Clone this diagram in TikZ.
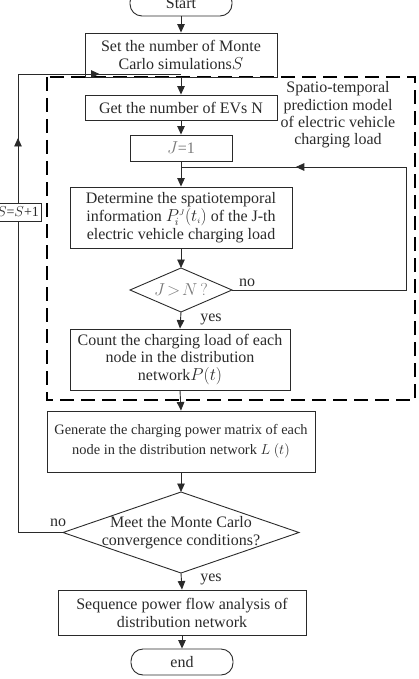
\documentclass[tikz,border=0pt]{standalone}
\usepackage{fontspec}
\setmainfont{Liberation Serif}
\usetikzlibrary{arrows.meta,calc}
\definecolor{ink}{HTML}{2A2A2A}
\definecolor{soft}{HTML}{7A7A7A}
\begin{document}
\begin{tikzpicture}[x=1pt,y=-1pt,
  line/.style={draw=ink, line width=0.9pt},
  arr/.style={line, -{Triangle[length=8.5pt,width=7.5pt]}},
  box/.style={draw=ink, line width=0.9pt, rectangle, align=center, inner sep=0pt,
    font=\fontsize{16}{17.5}\selectfont, text=ink},
  term/.style={box, rounded corners=12pt, minimum width=102pt, minimum height=26pt},
  txt/.style={align=center, inner sep=0pt, font=\fontsize{16}{17.5}\selectfont, text=ink},
  dashbox/.style={draw=black, line width=2pt, dash pattern=on 14pt off 7pt},
  diam/.style={draw=ink, line width=0.9pt},
]
\useasboundingbox (0,0) rectangle (419,679);

% dashed region
\draw[dashbox] (47,77) rectangle (415,400);

% nodes
\node[term] (start) at (181,3) {Start};
\node[box, minimum width=192pt, minimum height=44pt] (b1) at (181,55)
  {Set the number of Monte\\Carlo simulations$S$};
\node[box, minimum width=192pt, minimum height=25pt] (b2) at (181,107.5)
  {Get the number of EVs N};
\node[box, minimum width=102pt, minimum height=26pt, text=soft] (j1) at (181,148)
  {$J$=1};
\node[box, minimum width=222pt, minimum height=61pt, font=\fontsize{16}{18}\selectfont] (b3) at (181,217.5)
  {Determine the spatiotemporal\\information \smash{$P_{\!i}^{\scriptscriptstyle J}(t_{\scriptscriptstyle i})$} of the J-th\\electric vehicle charging load};

% diamond 1
\coordinate (d1t) at (181,268);
\coordinate (d1b) at (181,312);
\coordinate (d1l) at (130,290);
\coordinate (d1r) at (232,290);
\draw[diam] (d1t) -- (d1r) -- (d1b) -- (d1l) -- cycle;
\node[txt, text=soft] (d1) at (181,290) {$J\!>\!N\,?$};

\node[box, minimum width=220pt, minimum height=61pt] (b4) at (180,359.5)
  {Count the charging load of each\\node in the distribution\\network$P(t)$};
\node[box, minimum width=268pt, minimum height=61pt, font=\fontsize{14.4}{20}\selectfont] (b5) at (181,441.5)
  {Generate the charging power matrix of each\\node in the distribution network $L$ $(t)$};

% diamond 2
\coordinate (d2t) at (181,492);
\coordinate (d2b) at (181,573);
\coordinate (d2l) at (63,532.5);
\coordinate (d2r) at (299,532.5);
\draw[diam] (d2t) -- (d2r) -- (d2b) -- (d2l) -- cycle;
\node[txt, font=\fontsize{16}{18}\selectfont] (d2) at (181,532.5)
  {Meet the Monte Carlo\\convergence conditions?};

\node[box, minimum width=248pt, minimum height=45pt, font=\fontsize{16}{18}\selectfont] (b6) at (182,612.5)
  {Sequence power flow analysis of\\distribution network};
\node[term] (end) at (182,662) {end};

% region label
\node[txt, font=\fontsize{16}{17.3}\selectfont] (reg) at (338,115)
  {Spatio-temporal\\prediction model\\of electric vehicle\\charging load};

% main arrows
\draw[arr] (start.south) -- (b1.north);
\draw[arr] (b1.south) -- (b2.north);
\draw[arr] (b2.south) -- (j1.north);
\draw[arr] (j1.south) -- (b3.north);
\draw[arr] (b3.south) -- (d1t);
\draw[arr] (d1b) -- (b4.north);
\draw[arr] (b4.south) -- (b5.north);
\draw[arr] (b5.south) -- (d2t);
\draw[arr] (d2b) -- (b6.north);
\draw[arr] (b6.south) -- (end.north);

% inner loop
\coordinate (lb) at (406,290);
\coordinate (lr) at (406,167);
\coordinate (lj) at (181,167);
\draw[line] (d1r) -- (lb) -- (lr) -- (lj);
\draw[arr] (lr) -- ($(lr)!0.49!(lj)$);
\node[txt] (no1) at (247,283) {no};
\node[txt] (yes1) at (211,319) {yes};

% outer loop
\coordinate (ob) at (18,532.5);
\coordinate (ot) at (18,74);
\coordinate (oj) at (181,74);
\coordinate (oup) at (18,138);
\draw[line] (d2l) -- (ob) -- (ot) -- (oj);
\draw[arr] (ot) -- ($(ot)!0.5!(oj)$);
\draw[arr] (18,200) -- (oup);
\node[box, fill=white, minimum width=46pt, minimum height=18pt, font=\fontsize{14}{16}\selectfont] (sinc) at (18,212) {$S$=$S$+1};
\node[txt] (no2) at (58,523) {no};
\node[txt] (yes2) at (211,579) {yes};
\end{tikzpicture}
\end{document}
